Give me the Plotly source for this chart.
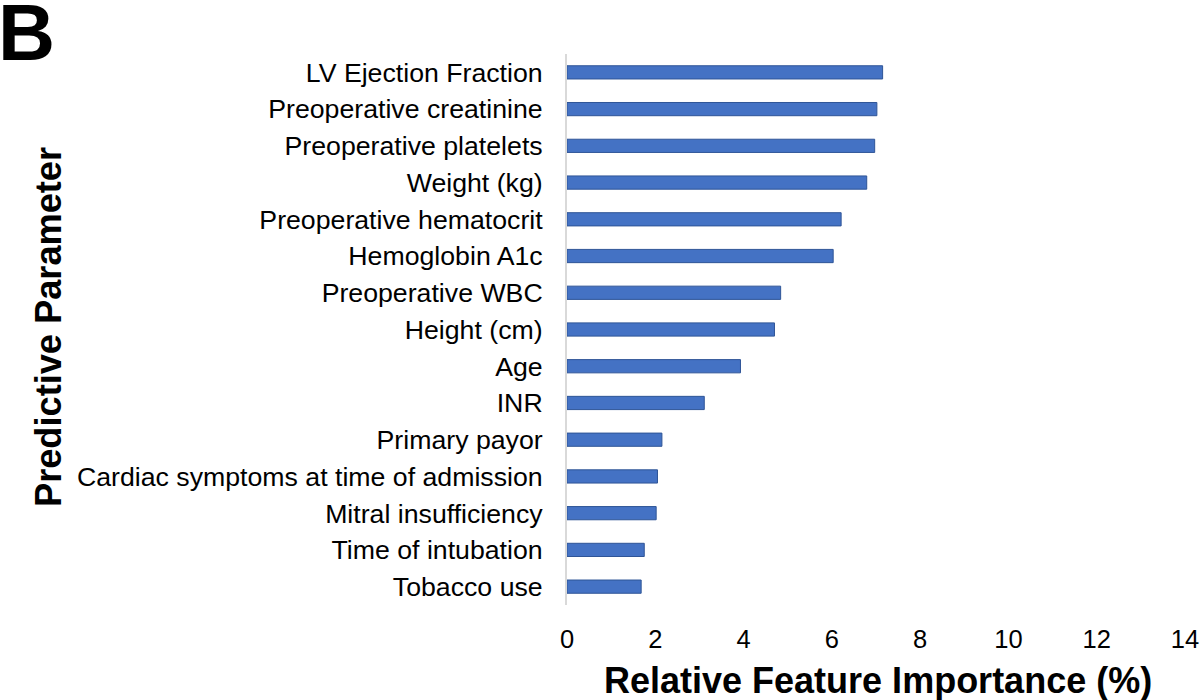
import plotly.graph_objects as go

categories = [
    "LV Ejection Fraction",
    "Preoperative creatinine",
    "Preoperative platelets",
    "Weight (kg)",
    "Preoperative hematocrit",
    "Hemoglobin A1c",
    "Preoperative WBC",
    "Height (cm)",
    "Age",
    "INR",
    "Primary payor",
    "Cardiac symptoms at time of admission",
    "Mitral insufficiency",
    "Time of intubation",
    "Tobacco use",
]
importance = [7.15, 7.02, 6.97, 6.79, 6.21, 6.03, 4.84, 4.70, 3.93, 3.11, 2.15, 2.05, 2.02, 1.75, 1.68]
x_ticks = [0, 2, 4, 6, 8, 10, 12, 14]

FONT = "Liberation Sans, Arial, sans-serif"

# plot area in pixels
L, R, T, B = 567, 1185, 54, 605
W, H = R - L, B - T


def px(x):
    return (x - L) / W


def py(y):
    return (B - y) / H


fig = go.Figure(
    go.Bar(
        x=importance,
        y=categories,
        orientation="h",
        width=0.36,
        marker=dict(color="#4472C4", line=dict(color="#2F5597", width=1)),
    )
)

fig.update_layout(
    width=1200,
    height=700,
    paper_bgcolor="white",
    plot_bgcolor="white",
    margin=dict(l=L, r=1200 - R, t=T, b=700 - B, autoexpand=False),
    showlegend=False,
    font=dict(family=FONT, color="#000000"),
    annotations=[
        dict(text="<b>B</b>", x=px(-4), y=py(33), xref="paper", yref="paper", showarrow=False,
             xanchor="left", yanchor="middle", font=dict(size=79, family=FONT, color="black")),
        dict(text="<b>Relative Feature Importance (%)</b>", x=px(878), y=py(680), xref="paper",
             yref="paper", showarrow=False, xanchor="center", yanchor="middle",
             font=dict(size=36, family=FONT, color="black")),
        dict(text="<b>Predictive Parameter</b>", x=px(48), y=py(327), xref="paper", yref="paper",
             showarrow=False, xanchor="center", yanchor="middle", textangle=-90,
             font=dict(size=36.2, family=FONT, color="black")),
    ],
)

fig.update_xaxes(
    range=[0, 14],
    tickvals=x_ticks,
    showgrid=False,
    zeroline=False,
    showline=False,
    ticks="",
    automargin=False,
    tickfont=dict(size=25.5, family=FONT, color="#000000"),
    ticklabelstandoff=16,
)
fig.update_yaxes(
    autorange="reversed",
    showgrid=False,
    zeroline=False,
    showline=True,
    linecolor="#D9D9D9",
    linewidth=2,
    ticks="",
    automargin=False,
    ticklabelstandoff=17,
    tickfont=dict(size=26.7, family=FONT, color="#000000"),
)

fig.write_html(
    "out.html",
    config={"displayModeBar": False},
    post_script="document.body.style.margin='0';document.body.style.overflow='hidden';",
)
